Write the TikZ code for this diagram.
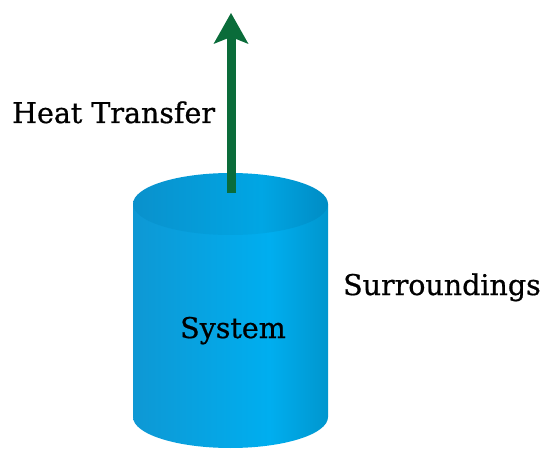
\documentclass[tikz,border=0pt]{standalone}
\usepackage{fontspec}
\setmainfont{DejaVu Serif}
\newfontfamily\labelfont[FakeBold=0.7]{DejaVu Serif}
\usetikzlibrary{arrows.meta}
\definecolor{arrowgreen}{RGB}{10,108,58}
\definecolor{bodyL}{RGB}{14,152,212}
\definecolor{bodyM}{RGB}{0,174,239}
\definecolor{bodyR}{RGB}{0,150,206}
\definecolor{topL}{RGB}{10,145,204}
\definecolor{topM}{RGB}{0,166,228}
\definecolor{topR}{RGB}{0,140,196}
\pgfdeclarehorizontalshading{cylbody}{100bp}{color(0bp)=(bodyL); color(25bp)=(bodyL); color(60bp)=(bodyM); color(75bp)=(bodyR); color(100bp)=(bodyR)}
\pgfdeclarehorizontalshading{cyltop}{100bp}{color(0bp)=(topL); color(25bp)=(topL); color(58bp)=(topM); color(75bp)=(topR); color(100bp)=(topR)}
\tikzset{
  label text/.style={font=\labelfont\fontsize{28.5}{32}\selectfont, text=black, inner sep=0pt},
  heat arrow/.style={draw=arrowgreen, line width=9pt,
    -{Stealth[length=31pt, width=35pt, inset=7pt, line width=0pt]}},
}
\begin{document}
\begin{tikzpicture}[x=1pt,y=1pt]
\useasboundingbox (0,0) rectangle (547,448);
% cylinder body
\shade[shading=cylbody] (133,244) -- (133,31) arc[start angle=180, end angle=360, x radius=97.5, y radius=31] -- (328,244) -- cycle;
% top ellipse
\shade[shading=cyltop] (230.5,244) ellipse[x radius=97.5, y radius=31];
% arrow
\coordinate (arrbase) at (231,255);
\coordinate (arrtip) at (231,435);
\draw[heat arrow] (arrbase) -- (arrtip);
% labels
\node[label text, anchor=base west] (heat) at (12,325) {Heat Transfer};
\node[label text, anchor=base west] (surr) at (343,153) {Surroundings};
\node[label text, anchor=base west] (sys) at (180,110) {System};
\end{tikzpicture}
\end{document}
